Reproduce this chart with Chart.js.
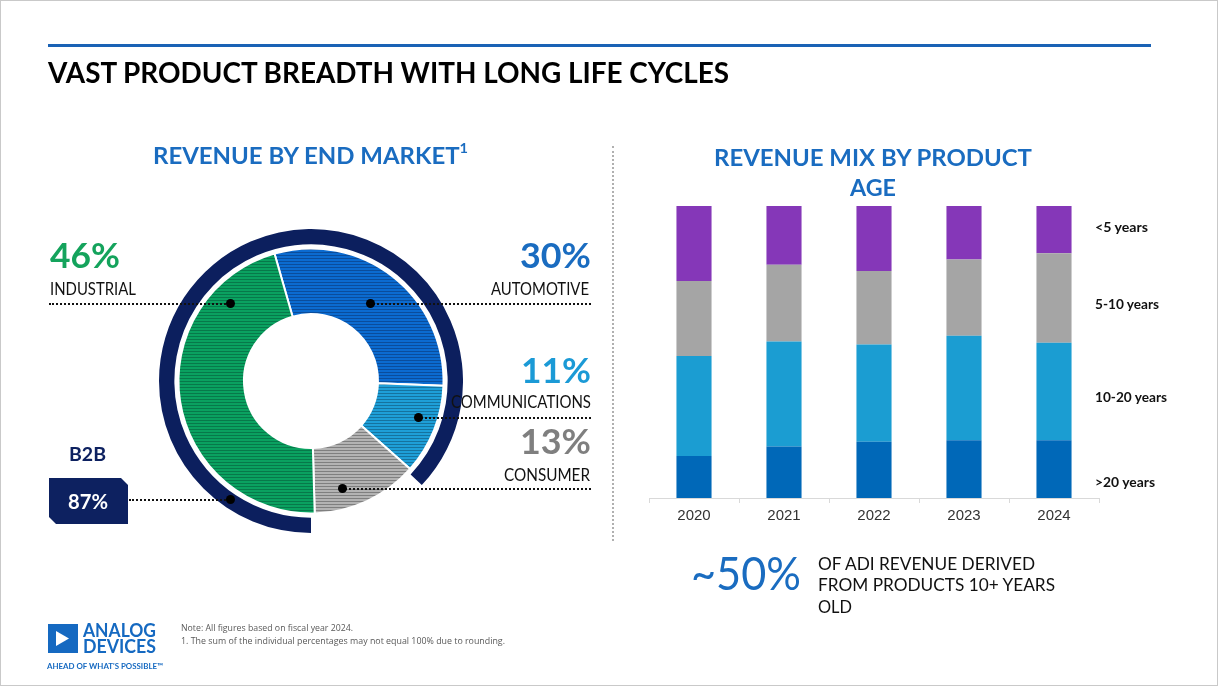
<!DOCTYPE html>
<html>
<head>
<meta charset="utf-8">
<script src="https://cdn.jsdelivr.net/npm/chart.js@4.4.1/dist/chart.umd.min.js"></script>
<style>
body { margin: 0; background: #fff; }
#slide { position: relative; width: 1218px; height: 686px; box-sizing: border-box; border: 1px solid #c9c9c9; overflow: hidden; font-family: Lato, "Open Sans", sans-serif; }
.t { position: absolute; white-space: nowrap; line-height: 1; transform-origin: 0 0; display: inline-block; }
.b { font-weight: 700; }
.lead { position: absolute; height: 0; border-top: 2px dotted #111; }
.dot { position: absolute; width: 9px; height: 9px; border-radius: 50%; background: #000; }
#donut { position: absolute; left: 158px; top: 228px; }
#bars { position: absolute; left: 640px; top: 195px; }
</style>
</head>
<body>
<div id="slide">
  <div style="position:absolute;left:47px;top:43px;width:1103px;height:3px;background:#1a62b5"></div>
  <span class="t b" style="left:47px;top:56px;font-size:29px;color:#000" data-w="681">VAST PRODUCT BREADTH WITH LONG LIFE CYCLES</span>

  <span class="t b" style="left:152px;top:142px;font-size:23px;color:#1a6cc0" data-w="315">REVENUE BY END MARKET<sup style="font-size:14px;position:relative;top:-2px">1</sup></span>
  <div style="position:absolute;left:611px;top:145px;height:395px;border-left:2px dotted #b0b0b0"></div>
  <span class="t b" style="left:713px;top:145px;font-size:23px;color:#1a6cc0" data-w="318">REVENUE MIX BY PRODUCT</span>
  <span class="t b" style="left:849px;top:175px;font-size:23px;color:#1a6cc0" data-w="46">AGE</span>

  <canvas id="donut" width="304" height="304"></canvas>

  <span class="t b" style="left:49px;top:236px;font-size:35px;color:#14a35c" data-w="70">46%</span>
  <span class="t" style="left:49px;top:280px;font-size:16.5px;color:#111" data-w="86">INDUSTRIAL</span>
  <div class="lead" style="left:48px;top:302px;width:181px"></div>
  <div class="dot" style="left:225px;top:298px"></div>

  <span class="t b" style="left:519px;top:236px;font-size:35px;color:#1a6cc0" data-w="71">30%</span>
  <span class="t" style="left:490px;top:280px;font-size:16.5px;color:#111" data-w="98">AUTOMOTIVE</span>
  <div class="lead" style="left:369px;top:302px;width:221px"></div>
  <div class="dot" style="left:365px;top:298px"></div>

  <span class="t b" style="left:520px;top:351px;font-size:35px;color:#1b9ad6" data-w="70">11%</span>
  <span class="t" style="left:450px;top:393px;font-size:16.5px;color:#111" data-w="140">COMMUNICATIONS</span>
  <div class="lead" style="left:417px;top:416px;width:173px"></div>
  <div class="dot" style="left:413px;top:412px"></div>

  <span class="t b" style="left:519px;top:422px;font-size:35px;color:#7f7f7f" data-w="71">13%</span>
  <span class="t" style="left:503px;top:466px;font-size:16.5px;color:#111" data-w="86">CONSUMER</span>
  <div class="lead" style="left:341px;top:487px;width:249px"></div>
  <div class="dot" style="left:337px;top:483px"></div>

  <span class="t b" style="left:68px;top:444px;font-size:18px;color:#0d2160" data-w="37">B2B</span>
  <div style="position:absolute;left:48px;top:477px;width:79px;height:46px;background:#0d2160;clip-path:polygon(0 0,72px 0,79px 7px,79px 46px,7px 46px,0 39px);filter:drop-shadow(2px 2px 2px rgba(0,0,0,.35))"></div>
  <span class="t b" style="left:67px;top:490px;font-size:20px;color:#fff" data-w="40">87%</span>
  <div class="lead" style="left:128px;top:498px;width:101px"></div>
  <div class="dot" style="left:225px;top:494px"></div>

  <canvas id="bars" width="470" height="345"></canvas>
  <span class="t b" style="left:1094px;top:220px;font-size:13.5px;color:#111" data-w="53">&lt;5 years</span>
  <span class="t b" style="left:1094px;top:297px;font-size:13.5px;color:#111" data-w="64">5-10 years</span>
  <span class="t b" style="left:1094px;top:390px;font-size:13.5px;color:#111" data-w="72">10-20 years</span>
  <span class="t b" style="left:1094px;top:475px;font-size:13.5px;color:#111" data-w="60">&gt;20 years</span>

  <span class="t" style="left:690px;top:549px;font-size:46px;font-weight:400;color:#1a6cc0" data-w="110">~50%</span>
  <span class="t" style="left:817px;top:554px;font-size:17.5px;color:#111" data-w="217">OF ADI REVENUE DERIVED</span>
  <span class="t" style="left:817px;top:575px;font-size:17.5px;color:#111" data-w="237">FROM PRODUCTS 10+ YEARS</span>
  <span class="t" style="left:817px;top:597px;font-size:17.5px;color:#111" data-w="34">OLD</span>

  <svg style="position:absolute;left:47px;top:623px" width="30" height="29"><rect width="30" height="29" fill="#1569c1"/><polygon points="8,7 8,22 21,14.5" fill="#fff"/></svg>
  <span class="t b" style="left:82px;top:620px;font-size:18px;color:#1569c1" data-w="73">ANALOG</span>
  <span class="t b" style="left:82px;top:636px;font-size:18px;color:#1569c1" data-w="73">DEVICES</span>
  <span class="t b" style="left:46px;top:661px;font-size:8px;color:#1569c1" data-w="116">AHEAD OF WHAT'S POSSIBLE™</span>
  <span class="t" style="left:180px;top:623px;font-size:8.5px;color:#595959;font-family:'Open Sans'" data-w="172">Note: All figures based on fiscal year 2024.</span>
  <span class="t" style="left:180px;top:636px;font-size:8.5px;color:#595959;font-family:'Open Sans'" data-w="324">1. The sum of the individual percentages may not equal 100% due to rounding.</span>
</div>

<script>
// revenue by end market (FY2024, %)
const marketLabels = ['Automotive', 'Communications', 'Consumer', 'Industrial'];
const marketShare = [30, 11, 13, 46];
const b2bShare = [87, 13];

// revenue mix by product age (%)
const years = ['2020', '2021', '2022', '2023', '2024'];
const over20 = [14.4, 17.6, 19.3, 19.8, 19.8];
const y10to20 = [34.2, 36.0, 33.3, 35.8, 33.4];
const y5to10 = [25.7, 26.3, 25.1, 26.1, 30.6];
const under5 = [25.7, 20.2, 22.3, 18.3, 16.2];

function stripes(base, dark) {
    const c = document.createElement('canvas');
    c.width = 4; c.height = 3;
    const g = c.getContext('2d');
    g.fillStyle = base; g.fillRect(0, 0, 4, 3);
    g.fillStyle = dark; g.fillRect(0, 2, 4, 1);
    return g.createPattern(c, 'repeat');
}

function fitText() {
    document.querySelectorAll('.t[data-w]').forEach(el => {
        const w = +el.dataset.w;
        const r = el.getBoundingClientRect().width;
        if (r > 0) el.style.transform = `scaleX(${w / r})`;
    });
}

function drawDonut() {
    new Chart(document.getElementById('donut').getContext('2d'), {
        type: 'doughnut',
        data: {
            labels: marketLabels,
            datasets: [{
                label: 'B2B',
                data: b2bShare,
                backgroundColor: ['#0c1f5e', 'rgba(0,0,0,0)'],
                borderWidth: 0,
                weight: 15,
                rotation: 180
            }, {
                label: 'gap',
                data: [1],
                backgroundColor: 'rgba(0,0,0,0)',
                borderWidth: 0,
                weight: 4
            }, {
                label: 'Revenue by end market',
                data: marketShare,
                backgroundColor: [
                    stripes('#0b6bd0', '#0a4d9c'),
                    stripes('#1e9fd8', '#15739f'),
                    stripes('#b3b3b3', '#7f7f7f'),
                    stripes('#0aa160', '#07794a')
                ],
                borderColor: '#fff',
                borderWidth: 2,
                weight: 64,
                rotation: -16
            }]
        },
        options: {
            responsive: false,
            animation: false,
            cutout: 67,
            events: [],
            layout: { padding: 0 },
            plugins: { legend: { display: false }, tooltip: { enabled: false } }
        }
    });
}

function drawBars() {
    const ds = (label, data, color) => ({ label, data, backgroundColor: color, borderWidth: 0 });
    new Chart(document.getElementById('bars').getContext('2d'), {
        type: 'bar',
        data: {
            labels: years,
            datasets: [
                ds('>20 years', over20, '#0068b8'),
                ds('10-20 years', y10to20, '#1b9dd2'),
                ds('5-10 years', y5to10, '#a5a5a5'),
                ds('<5 years', under5, '#8537b8')
            ]
        },
        options: {
            responsive: false,
            animation: false,
            events: [],
            layout: { padding: { left: 8, right: 12, top: 10, bottom: 5 } },
            datasets: { bar: { barPercentage: 0.39, categoryPercentage: 1 } },
            plugins: { legend: { display: false }, tooltip: { enabled: false } },
            scales: {
                x: {
                    stacked: true,
                    afterFit: s => { s.height = 38; },
                    grid: { offset: true, drawOnChartArea: false, tickLength: 5, color: '#d9d9d9' },
                    border: { color: '#d9d9d9' },
                    ticks: { color: '#333', padding: 4, font: { family: 'Liberation Sans', size: 15 } }
                },
                y: { stacked: true, display: false, min: 0, max: 100 }
            }
        }
    });
}

document.fonts.ready.then(() => {
    fitText();
    drawDonut();
    drawBars();
});
</script>
</body>
</html>
